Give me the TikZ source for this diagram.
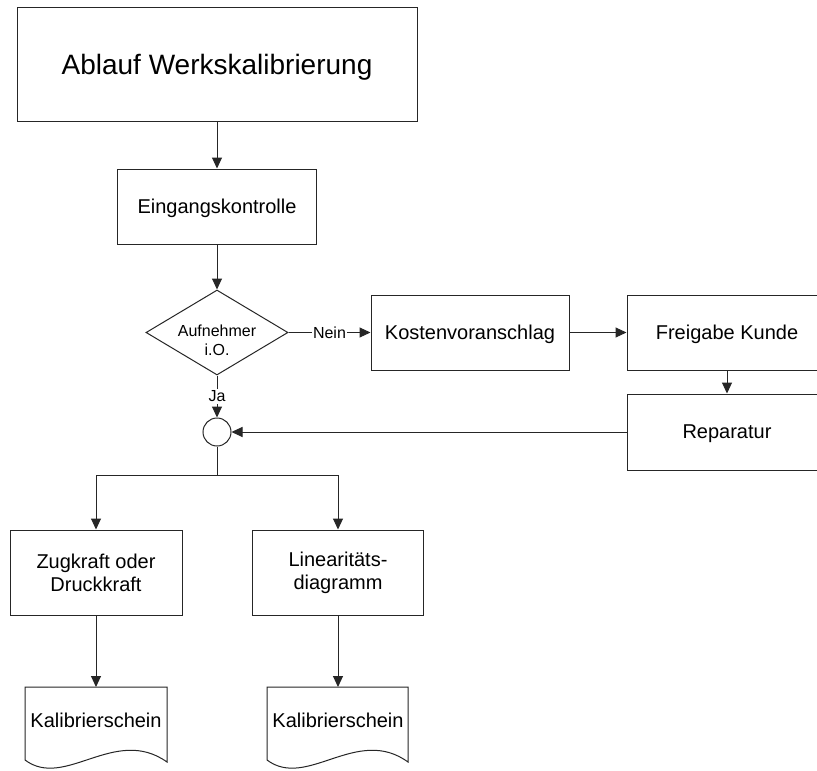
\documentclass[tikz,border=0pt]{standalone}
\usepackage{fontspec}
\setmainfont{Liberation Sans}
\usetikzlibrary{shapes.geometric,arrows.meta}
\begin{document}
\begin{tikzpicture}[x=1pt,y=-1pt,
  line/.style={draw=black!85, line width=1pt},
  arr/.style={line, -{Triangle[length=11pt,width=10pt]}},
  box/.style={draw=black!85, line width=1pt, rectangle, inner sep=0pt, align=center,
    font=\fontsize{20}{23}\selectfont},
  lab/.style={fill=white, inner sep=1.5pt, font=\fontsize{16}{19}\selectfont},
  doctext/.style={inner sep=0pt, font=\fontsize{20}{23}\selectfont}
]
\clip (0,0) rectangle (817,771);
\fill[white] (0,0) rectangle (817,771);

\node[box, minimum width=400pt, minimum height=114pt, text depth=0pt, font=\fontsize{28}{32}\selectfont] (title) at (217,64.5) {Ablauf Werkskalibrierung};
\node[box, minimum width=199pt, minimum height=75pt, text depth=0pt] (eing) at (217,206.5) {Eingangskontrolle};
\node[diamond, draw=black!85, line width=1pt, minimum width=142pt, minimum height=85pt, inner sep=0pt] (dec) at (217,332.5) {};
\node[align=center, inner sep=0pt, font=\fontsize{16}{19}\selectfont] (dectext) at (217,340) {Aufnehmer\\i.O.};
\node[circle, draw=black!85, line width=1pt, minimum size=28pt, inner sep=0pt] (circ) at (217,432) {};
\node[box, minimum width=198pt, minimum height=75pt, text depth=0pt] (kost) at (470,332.5) {Kostenvoranschlag};
\node[box, minimum width=200pt, minimum height=75pt, text depth=0pt] (frei) at (727,332.5) {Freigabe Kunde};
\node[box, minimum width=200pt, minimum height=76pt, text depth=0pt] (rep) at (727,432) {Reparatur};
\node[box, minimum width=172pt, minimum height=85pt] (zug) at (96,572.5) {Zugkraft oder\\Druckkraft};
\node[box, minimum width=171pt, minimum height=85pt] (lin) at (338,572.5) {Linearitäts-\\diagramm};

% documents
\draw[line, fill=white] (25,687) -- (25,760) .. controls (65,790) and (115,725) .. (167,762) -- (167,687) -- cycle;
\coordinate (d1top) at (96,687);
\node[doctext] (d1) at (96,720) {Kalibrierschein};
\draw[line, fill=white] (267,687) -- (267,760) .. controls (307,790) and (357,725) .. (408,762) -- (408,687) -- cycle;
\coordinate (d2top) at (338,687);
\node[doctext] (d2) at (338,720) {Kalibrierschein};

% connectors
\draw[arr] (title) -- (eing);
\draw[arr] (eing) -- (dec);
\draw[arr] (dec.east) -- node[lab]{Nein} (kost.west);
\draw[arr] (kost) -- (frei);
\draw[arr] (frei) -- (rep);
\draw[arr] (rep.west) -- (circ.east);
\draw[arr] (dec.south) -- node[lab]{Ja} (circ.north);
\coordinate (split) at (217,475);
\draw[line] (circ.south) -- (split);
\draw[arr] (split) -| (zug.north);
\draw[arr] (split) -| (lin.north);
\draw[arr] (zug.south) -- (d1top);
\draw[arr] (lin.south) -- (d2top);
\end{tikzpicture}
\end{document}
